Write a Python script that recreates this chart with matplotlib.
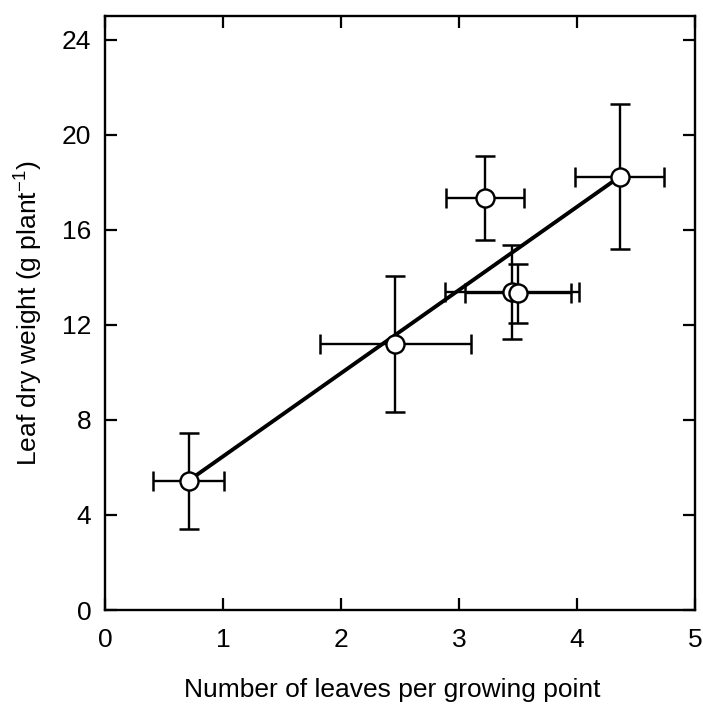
import numpy as np
import matplotlib.pyplot as plt

# leaves per growing point vs leaf dry weight
leaves = [0.71, 2.46, 3.22, 3.45, 3.50, 4.36]
leaves_err = [0.30, 0.64, 0.33, 0.57, 0.45, 0.38]
weight = [5.45, 11.2, 17.33, 13.38, 13.33, 18.23]
weight_err = [2.02, 2.86, 1.77, 1.98, 1.25, 3.05]

# fitted regression line end points
line_x = [0.71, 4.36]
line_y = [5.45, 18.23]

plt.rcParams['font.family'] = ['Liberation Sans', 'DejaVu Sans']
plt.rcParams['mathtext.fontset'] = 'custom'
plt.rcParams['mathtext.rm'] = 'Liberation Sans'

fig = plt.figure(figsize=(7.03, 7.04), dpi=100)
ax = fig.add_axes([0.1494, 0.1335, 0.8393, 0.8438])

ax.plot(line_x, line_y, color='black', linewidth=2.8, zorder=2)
ax.errorbar(leaves, weight, xerr=leaves_err, yerr=weight_err, fmt='none',
            ecolor='black', elinewidth=1.7, capsize=7, capthick=1.8, zorder=3)
ax.plot(leaves, weight, 'o', markersize=13, markerfacecolor='white',
        markeredgecolor='black', markeredgewidth=1.7, zorder=4)

ax.set_xlim(0, 5)
ax.set_ylim(0, 25)
ax.set_xticks(np.arange(0, 6, 1))
ax.set_yticks(np.arange(0, 25, 4))

ax.tick_params(direction='in', length=8.5, width=1.6, labelsize=19,
               top=True, right=True, pad=10)
ax.tick_params(axis='x', pad=13)
for s in ax.spines.values():
    s.set_linewidth(1.7)

ax.set_xlabel('Number of leaves per growing point', fontsize=19)
ax.xaxis.set_label_coords(0.487, -0.115)
ax.set_ylabel('Leaf dry weight (g plant$\\mathregular{^{-1}}$)', fontsize=19,
              labelpad=12)

fig.savefig('out.png', dpi=100)
